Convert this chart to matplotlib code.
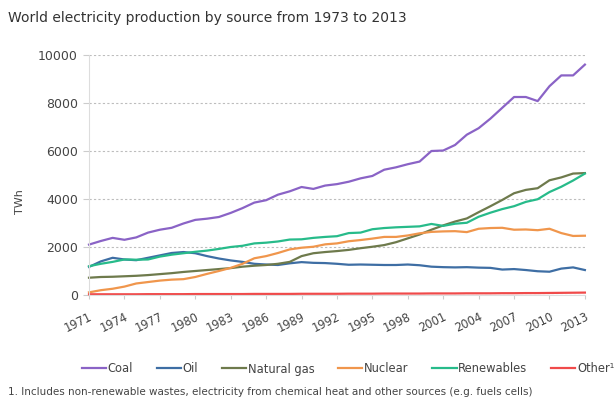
import matplotlib
matplotlib.use('Agg')
import matplotlib.pyplot as plt
import numpy as np

plt.rcParams['font.family'] = ['DejaVu Sans']

# donnees (TWh)
annees = list(range(1971, 2014))

charbon = [2100, 2250, 2380, 2300, 2400, 2600, 2720, 2800, 2980, 3130,
           3180, 3250, 3420, 3620, 3850, 3950, 4180, 4320, 4500, 4420,
           4560, 4620, 4720, 4860, 4960, 5220, 5320, 5450, 5560, 6000,
           6020, 6250, 6680, 6950, 7350, 7800, 8250, 8250, 8080, 8700,
           9150, 9150, 9600]
petrole = [1170, 1400, 1550, 1480, 1450, 1550, 1650, 1750, 1790, 1740,
           1620, 1520, 1440, 1380, 1300, 1270, 1250, 1320, 1370, 1340,
           1330, 1300, 1260, 1270, 1260, 1250, 1250, 1270, 1240, 1180,
           1160, 1150, 1160, 1140, 1130, 1060, 1080, 1040, 990, 970,
           1100, 1150, 1040]
gaz = [720, 750, 760, 780, 800, 830, 870, 910, 960, 1000,
       1040, 1080, 1120, 1180, 1220, 1250, 1300, 1380, 1620, 1740,
       1790, 1830, 1880, 1950, 2010, 2080, 2200, 2360, 2520, 2720,
       2900, 3060, 3190, 3450, 3700, 3960, 4240, 4380, 4450, 4780,
       4900, 5060, 5080]
nucleaire = [110, 200, 260, 350, 480, 540, 600, 640, 660, 750,
             880, 1000, 1130, 1300, 1530, 1620, 1750, 1900, 1970, 2010,
             2110, 2150, 2240, 2290, 2350, 2420, 2420, 2480, 2570, 2630,
             2650, 2660, 2620, 2760, 2790, 2800, 2720, 2730, 2700, 2760,
             2580, 2460, 2470]
renouvelables = [1200, 1300, 1380, 1480, 1470, 1480, 1600, 1680, 1740, 1800,
                 1850, 1920, 2000, 2050, 2150, 2180, 2230, 2310, 2320, 2380,
                 2420, 2450, 2580, 2600, 2740, 2790, 2820, 2840, 2860, 2960,
                 2880, 2970, 3010, 3260, 3430, 3580, 3700, 3880, 3990, 4290,
                 4510, 4770, 5060]
autres = [30, 30, 30, 30, 30, 35, 35, 35, 35, 40,
          40, 40, 40, 40, 45, 45, 45, 45, 50, 50,
          50, 50, 55, 55, 55, 60, 60, 60, 60, 65,
          65, 65, 70, 70, 70, 75, 75, 80, 80, 85,
          90, 95, 100]

series = ['Coal', 'Oil', 'Natural gas', 'Nuclear', 'Renewables', 'Other\u00b9']
couleurs = ['#8a63c6', '#3e6ea4', '#6e7a4c', '#f0964c', '#27bb8a', '#f04a4a']
valeurs = [charbon, petrole, gaz, nucleaire, renouvelables, autres]

# tracer le graphique

fig = plt.figure(figsize=(6.16, 4.03), dpi=100)
ax = fig.add_axes([0.1445, 0.268, 0.805, 0.5955])

for nom, couleur, val in zip(series, couleurs, valeurs):
    ax.plot(annees, val, color=couleur, linewidth=1.6, label=nom, clip_on=False)

ax.set_xlim(1971, 2013)
ax.set_ylim(0, 10000)
ax.set_yticks([0, 2000, 4000, 6000, 8000, 10000])
ax.set_xticks(annees[::3])
ax.set_xticklabels([str(a) for a in annees[::3]], rotation=26, ha='right',
                   rotation_mode='anchor')

ax.grid(axis='y', color='#bdbdbd', linestyle=(0, (2, 2)), linewidth=0.8)
ax.set_axisbelow(True)

for cote in ['top', 'right']:
    ax.spines[cote].set_visible(False)
ax.spines['left'].set_color('#dddddd')
ax.spines['bottom'].set_color('#dddddd')

ax.tick_params(axis='y', length=4, color='#cccccc', labelsize=9,
               labelcolor='#444444', pad=4)
ax.tick_params(axis='x', length=3, color='#cccccc', labelsize=8.3,
               labelcolor='#444444', pad=8)

fig.text(0.032, 0.50, 'TWh', rotation=90, fontsize=8, color='#444444',
         ha='center', va='center')

fig.text(0.013, 0.955, 'World electricity production by source from 1973 to 2013',
         fontsize=10, color='#333333', ha='left', va='center')

fig.legend(loc='center left', bbox_to_anchor=(0.133, 1 - 369 / 403.0), ncol=6,
           frameon=False, fontsize=8.3, handlelength=2.1, handletextpad=0.15,
           columnspacing=2.05, borderaxespad=0, borderpad=0,
           labelcolor='#444444')

fig.text(0.013, 1 - 392 / 403.0,
         '1. Includes non-renewable wastes, electricity from chemical heat and other sources (e.g. fuels cells)',
         fontsize=7.5, color='#444444', ha='left', va='center')

plt.savefig('out.png', dpi=100)
